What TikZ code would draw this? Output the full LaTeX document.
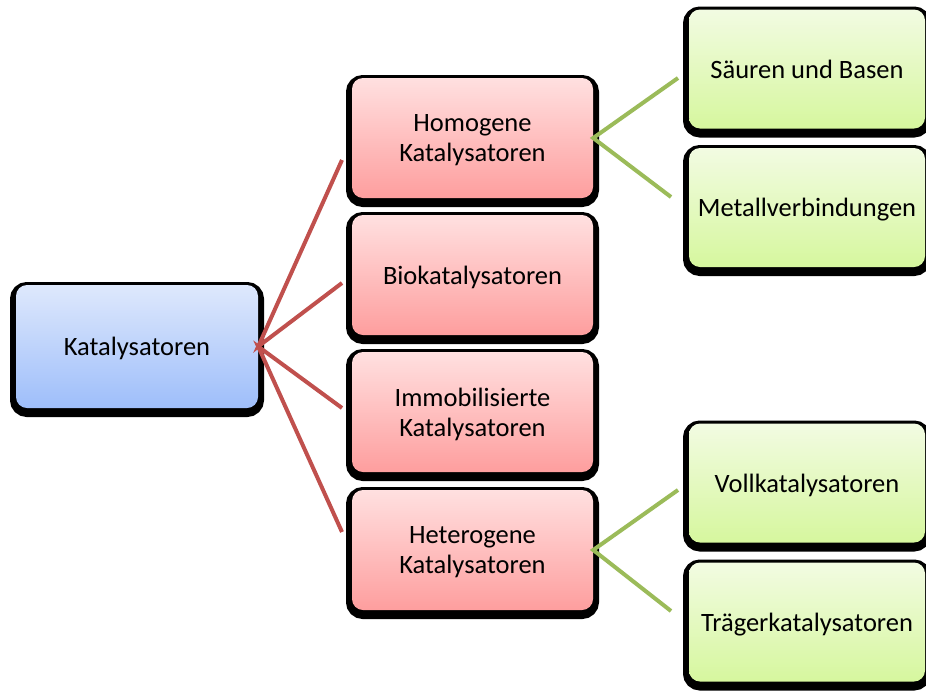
\documentclass[tikz,border=0pt]{standalone}
\usepackage{fontspec}
\setmainfont{Carlito}
\usetikzlibrary{shadows}
\definecolor{redline}{RGB}{192,80,77}
\definecolor{greenline}{RGB}{155,187,89}
\definecolor{bluetop}{RGB}{222,232,252}
\definecolor{bluebot}{RGB}{158,190,250}
\definecolor{redtop}{RGB}{255,224,224}
\definecolor{redbot}{RGB}{254,158,158}
\definecolor{greentop}{RGB}{242,251,226}
\definecolor{greenbot}{RGB}{214,247,158}
\tikzset{
  box/.style={rounded corners=11pt, inner sep=0pt, align=center,
    text depth=0pt,
    font=\fontsize{26.5}{30}\selectfont,
    general shadow={draw=black, fill=black, line width=12pt, shadow yshift=-3pt}},
  rootbox/.style={box, top color=bluetop, bottom color=bluebot,
    minimum width=242pt, minimum height=123pt},
  redbox/.style={box, top color=redtop, bottom color=redbot,
    minimum width=241pt, minimum height=120pt},
  greenbox/.style={box, top color=greentop, bottom color=greenbot,
    minimum width=236pt, minimum height=119pt},
  redcon/.style={draw=redline, line width=4pt},
  greencon/.style={draw=greenline, line width=4pt}
}
\begin{document}
\begin{tikzpicture}[x=1pt, y=-1pt]
\useasboundingbox (0,0) rectangle (926,691);
\node[rootbox] (root) at (137,346.5) {Katalysatoren};
\node[redbox] (homo) at (472.5,138) {Homogene\\Katalysatoren};
\node[redbox] (bio) at (472.5,275) {Biokatalysatoren};
\node[redbox] (immo) at (472.5,412) {Immobilisierte\\Katalysatoren};
\node[redbox] (hetero) at (472.5,550) {Heterogene\\Katalysatoren};
\node[greenbox] (saeure) at (807,69) {Säuren und Basen};
\node[greenbox] (metall) at (807,207.5) {Metallverbindungen};
\node[greenbox] (voll) at (807,483) {Vollkatalysatoren};
\node[greenbox] (traeger) at (807,622) {Trägerkatalysatoren};
\coordinate (r1) at (342,160);
\coordinate (r2) at (342,283);
\coordinate (r3) at (342,408);
\coordinate (r4) at (342,532);
\coordinate (g1) at (678,78);
\coordinate (g2) at (671,197);
\coordinate (g3) at (678,490);
\coordinate (g4) at (671,611);
\draw[redcon] (r1) -- (root.east) -- (r2);
\draw[redcon] (r3) -- (root.east) -- (r4);
\draw[greencon] (g1) -- (homo.east) -- (g2);
\draw[greencon] (g3) -- (hetero.east) -- (g4);
\end{tikzpicture}
\end{document}
